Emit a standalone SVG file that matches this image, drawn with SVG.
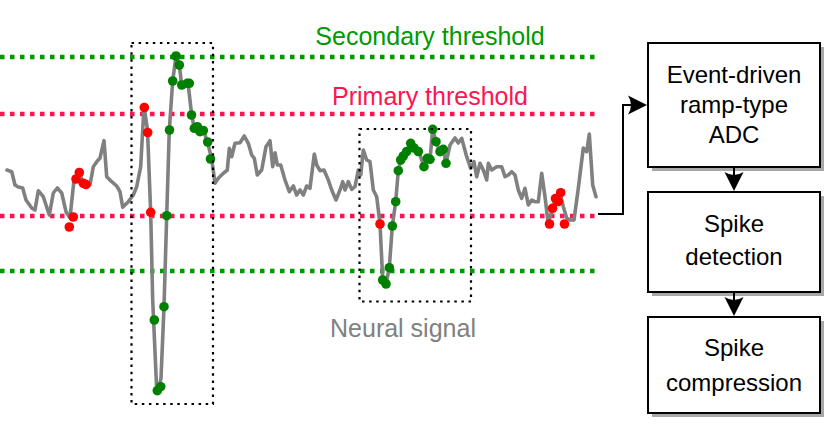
<svg xmlns="http://www.w3.org/2000/svg" width="830" height="433" viewBox="0 0 830 433">
<style>
.thrG{stroke:#009900;stroke-width:4.5;stroke-dasharray:4.5 5.5;fill:none}
.thrR{stroke:#ff1451;stroke-width:4.5;stroke-dasharray:4.5 5.5;fill:none}
.dotbox{stroke:#000;stroke-width:2.2;stroke-dasharray:2.5 4.6;fill:none}
.trace{stroke:#808080;stroke-width:3.6;fill:none;stroke-linejoin:round;stroke-linecap:round}
.r{fill:#ff0000}
.g{fill:#008000}
.box{fill:#fff;stroke:#000;stroke-width:2}
.shadow{fill:#a8a8a8}
.lbl{font-family:"Liberation Sans",Arial,sans-serif;font-size:25px;text-anchor:middle}
.bt{font-family:"Liberation Sans",Arial,sans-serif;font-size:24px;text-anchor:middle;fill:#000}
.conn{stroke:#000;stroke-width:2;fill:none}
</style>
<defs>
<marker id="arr" markerUnits="userSpaceOnUse" markerWidth="22" markerHeight="22" viewBox="0 0 22 22" refX="17" refY="11" orient="auto">
<path d="M20,11 L1,1.5 Q7,11 1,20.5 Z" fill="#000"/>
</marker>
</defs>
<g id="thresholds">
<line class="thrG" x1="0" y1="57" x2="598" y2="57"/>
<line class="thrR" x1="0" y1="114" x2="598" y2="114"/>
<line class="thrR" x1="0" y1="216" x2="598" y2="216"/>
<line class="thrG" x1="0" y1="271" x2="598" y2="271"/>
<text class="lbl" x="430" y="45" fill="#009900">Secondary threshold</text>
<text class="lbl" x="430" y="105" fill="#ff1451">Primary threshold</text>
</g>
<g id="signal">
<polyline class="trace" points="7,170 11.7,171.7 15,185 18.3,187 22.7,188 26,200 31.7,208 35,210 38.3,190.7 43.3,196.7 49.3,215 53.3,193 57.3,188 61.7,193 66,211.7 70,218 74,180 77,176 80,174 83,183 86,185 90,185 93.3,166.7 97.3,161 100,158 104,140.7 106.7,176.7 111.7,181.7 116.7,186 120,191.7 122.7,207.3 128.3,201.7 133.3,195 136.7,186.7 140.7,166.7 144,106 147.5,130 150.7,213 152.7,300 156.7,390 158.5,391 161,378 164,307 166.7,216 169.3,130 172.7,81 176,56 179.3,65 181.7,85 184,84 188,83 191.7,115 194.3,128.3 197.3,127 200,131.7 203.3,130 207.7,142.7 211.7,159.3 215,183.3 218.3,178.3 223.3,173.3 227.3,170 229.3,148.3 231.7,156.7 235,143.3 240,142.7 244.3,136 248.3,143.3 251.7,155 254.3,158.3 257.3,175 261.7,170 266,146.7 270,140.7 272.7,166.7 275,152.7 277.3,165 280.7,165 285,180 289.3,191.7 293.3,186 296.7,195 300,190 303.3,195 306.7,186 310,188.3 314.3,154 316.7,165 320,170.7 324,170 328.3,180 331.7,190 336,200 340,190 342.7,181.7 345,190 348.3,181.7 351.7,189.3 355,186.7 358.3,170 360.7,175 363.3,150 366.7,160 370,161.7 373.3,190 376.7,196.7 380,224 382.7,279 386,284 389.3,267.7 392.3,226 395.7,201.7 398.3,170.7 400.7,160 403.3,155 406.7,150 410.7,143.3 414.5,147 418.3,150 424,166.7 427.3,158.3 430,159.3 432.7,129.3 436,141.7 440,151.7 443.3,149.3 446,163.3 450,145 455,138 458.3,143 461.7,138.3 466.7,156.7 470.7,168.3 474,161.7 476.7,176.7 480,163.3 483.3,170 486.7,180 488.3,163.3 491.7,170 496.7,166.7 501.7,166.7 505,176.7 508.3,175 511.7,171.7 515,175 518.3,190 521.7,198.3 525,188.3 528.3,205 531.7,200 535,201.7 538.3,201.7 541.7,173.3 545,196.7 548,222 551,214 555,200 560,193 563.3,206.7 566.7,218 570,220 574,220 578.3,188.3 583.3,148 586.7,151.7 589.3,134 592.7,185 596,196.7"/>
<g>
<circle class="r" cx="69.3" cy="227" r="4.8"/>
<circle class="r" cx="73.3" cy="217" r="4.8"/>
<circle class="r" cx="76" cy="179" r="4.8"/>
<circle class="r" cx="79.3" cy="172.5" r="4.8"/>
<circle class="r" cx="83.3" cy="183.3" r="4.8"/>
<circle class="r" cx="86" cy="184.5" r="4.8"/>
<circle class="r" cx="144.3" cy="107.5" r="4.8"/>
<circle class="r" cx="147.7" cy="132.5" r="4.8"/>
<circle class="r" cx="150.7" cy="212.3" r="4.8"/>
<circle class="r" cx="380" cy="224" r="4.8"/>
<circle class="r" cx="549.5" cy="224" r="4.8"/>
<circle class="r" cx="552.5" cy="208.3" r="4.8"/>
<circle class="r" cx="555.5" cy="198.5" r="4.8"/>
<circle class="r" cx="558.3" cy="201.5" r="4.8"/>
<circle class="r" cx="560.7" cy="192.7" r="4.8"/>
<circle class="r" cx="564.5" cy="224" r="4.8"/>
</g>
<g>
<circle class="g" cx="154.3" cy="320" r="4.8"/>
<circle class="g" cx="157.3" cy="390.7" r="4.8"/>
<circle class="g" cx="160.7" cy="386.7" r="4.8"/>
<circle class="g" cx="164" cy="306.7" r="4.8"/>
<circle class="g" cx="166.7" cy="215.7" r="4.8"/>
<circle class="g" cx="169.5" cy="130" r="4.8"/>
<circle class="g" cx="172.7" cy="81" r="4.8"/>
<circle class="g" cx="176" cy="56" r="4.8"/>
<circle class="g" cx="179.3" cy="65" r="4.8"/>
<circle class="g" cx="181.7" cy="85" r="4.8"/>
<circle class="g" cx="187.3" cy="83.3" r="4.8"/>
<circle class="g" cx="189.3" cy="83.3" r="4.8"/>
<circle class="g" cx="191.5" cy="115" r="4.8"/>
<circle class="g" cx="194.3" cy="128.3" r="4.8"/>
<circle class="g" cx="197.3" cy="126.7" r="4.8"/>
<circle class="g" cx="200" cy="131.7" r="4.8"/>
<circle class="g" cx="203.3" cy="130.5" r="4.8"/>
<circle class="g" cx="207.7" cy="142" r="4.8"/>
<circle class="g" cx="210.5" cy="159" r="4.8"/>
<circle class="g" cx="382.7" cy="280" r="4.8"/>
<circle class="g" cx="386" cy="284" r="4.8"/>
<circle class="g" cx="389.3" cy="267.7" r="4.8"/>
<circle class="g" cx="392.3" cy="226" r="4.8"/>
<circle class="g" cx="395.7" cy="201.7" r="4.8"/>
<circle class="g" cx="398.3" cy="170.7" r="4.8"/>
<circle class="g" cx="400.7" cy="160" r="4.8"/>
<circle class="g" cx="403.3" cy="156" r="4.8"/>
<circle class="g" cx="406.7" cy="151.5" r="4.8"/>
<circle class="g" cx="410.7" cy="143.3" r="4.8"/>
<circle class="g" cx="414" cy="148" r="4.8"/>
<circle class="g" cx="418.3" cy="151.5" r="4.8"/>
<circle class="g" cx="424" cy="166.7" r="4.8"/>
<circle class="g" cx="427.3" cy="158.3" r="4.8"/>
<circle class="g" cx="430" cy="159.3" r="4.8"/>
<circle class="g" cx="432.7" cy="129.3" r="4.8"/>
<circle class="g" cx="436" cy="141.7" r="4.8"/>
<circle class="g" cx="440" cy="151.7" r="4.8"/>
<circle class="g" cx="443.3" cy="149.3" r="4.8"/>
<circle class="g" cx="446" cy="163.3" r="4.8"/>
</g>
<rect class="dotbox" x="131.5" y="43" width="81.5" height="361"/>
<rect class="dotbox" x="359.5" y="129" width="111.5" height="172.5"/>
<text class="lbl" x="403" y="337" fill="#808080">Neural signal</text>
</g>
<g id="adc">
<rect class="shadow" x="652" y="47" width="172" height="124"/>
<rect class="box" x="648" y="43" width="172" height="124"/>
<text class="bt" x="734" y="83">Event-driven</text>
<text class="bt" x="734" y="113">ramp-type</text>
<text class="bt" x="734" y="143">ADC</text>
</g>
<g id="detection">
<rect class="shadow" x="652" y="196" width="172" height="100"/>
<rect class="box" x="648" y="192" width="172" height="100"/>
<text class="bt" x="734" y="232">Spike</text>
<text class="bt" x="734" y="265">detection</text>
</g>
<g id="compression">
<rect class="shadow" x="652" y="321" width="172" height="96"/>
<rect class="box" x="648" y="317" width="172" height="96"/>
<text class="bt" x="734" y="356">Spike</text>
<text class="bt" x="734" y="391">compression</text>
</g>
<g id="connectors">
<path class="conn" d="M598,214 H623 V105 H644" marker-end="url(#arr)"/>
<path class="conn" d="M734,168 V188" marker-end="url(#arr)"/>
<path class="conn" d="M734,293 V313" marker-end="url(#arr)"/>
</g>
</svg>
